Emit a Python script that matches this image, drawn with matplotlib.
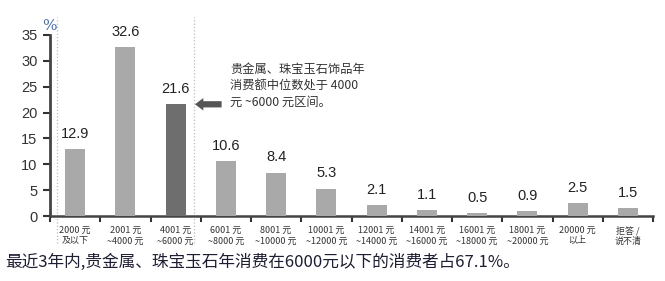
import numpy as np
import matplotlib.pyplot as plt

plt.rcParams['font.family'] = ['Noto Sans CJK SC', 'DejaVu Sans']

categories = ['2000 元\n及以下', '2001 元\n~4000 元', '4001 元\n~6000 元', '6001 元\n~8000 元',
              '8001 元\n~10000 元', '10001 元\n~12000 元', '12001 元\n~14000 元', '14001 元\n~16000 元',
              '16001 元\n~18000 元', '18001 元\n~20000 元', '20000 元\n以上', '拒答 /\n说不清']
values = [12.9, 32.6, 21.6, 10.6, 8.4, 5.3, 2.1, 1.1, 0.5, 0.9, 2.5, 1.5]
highlight = 2

fig = plt.figure(figsize=(6.65, 2.81), dpi=100)
ax = fig.add_axes([50/665, 1-216/281, 603/665, 181/281])

x = np.arange(len(values))
colors = ['#a9a9a9'] * len(values)
colors[highlight] = '#6e6e6e'
ax.bar(x, values, width=0.4, color=colors, zorder=3)

for xi, v in zip(x, values):
    ax.text(xi, v + 1.6, f'{v:.1f}', ha='center', va='bottom', fontsize=10.5,
            family='Liberation Sans', color='#222222')

ax.set_xlim(-0.5, len(values) - 0.5)
ax.set_ylim(0, 35)
ax.set_yticks(range(0, 36, 5))
ax.tick_params(axis='y', labelsize=10.5, length=5, width=1.5, colors='#333333', pad=4)
for lab in ax.get_yticklabels():
    lab.set_family('Liberation Sans')

ax.set_xticks(x)
ax.set_xticklabels(categories, fontsize=6.5, color='#333333', linespacing=1.25)
ax.tick_params(axis='x', length=0, pad=7)
ax.set_xticks(np.arange(-0.5, len(values)), minor=True)
ax.tick_params(axis='x', which='minor', length=4, width=1.5, color='#333333')

for s in ['top', 'right']:
    ax.spines[s].set_visible(False)
ax.spines['left'].set_linewidth(2)
ax.spines['left'].set_color('#444444')
ax.spines['bottom'].set_linewidth(1.8)
ax.spines['bottom'].set_color('#444444')

# dotted separators
for xd in [-0.36, 2.37]:
    ax.plot([xd, xd], [-5.3, 38.5], ls=':', lw=0.9, color='#bbbbbb', clip_on=False, zorder=1)

ax.text(-0.52, 36.7, '%', fontsize=11, family='DejaVu Serif', color='#4a6fa5', ha='center', va='center')

# annotation
ax.annotate('', xy=(2.33, 21.6), xytext=(2.97, 21.6),
            arrowprops=dict(arrowstyle='simple,head_length=0.6,head_width=0.9,tail_width=0.45',
                            color='#555555', lw=0))
fig.text(230/665, 1-63/281, '贵金属、珠宝玉石饰品年\n消费额中位数处于 4000\n元 ~6000 元区间。',
         fontsize=8.8, color='#333333', va='top', ha='left', linespacing=1.35)

fig.text(5/665, 1-262/281, '最近3年内,贵金属、珠宝玉石年消费在6000元以下的消费者占67.1%。',
         fontsize=12, color='#1e1e33', va='center', ha='left')

fig.savefig('out.png', dpi=100)
